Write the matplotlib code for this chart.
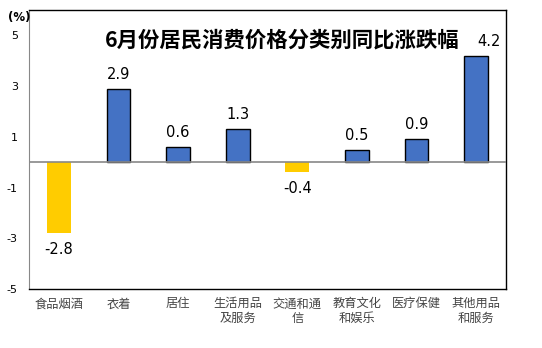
import matplotlib.pyplot as plt
import numpy as np

plt.rcParams['font.family'] = ['Noto Sans CJK SC', 'DejaVu Sans']

categories = ['食品烟酒', '衣着', '居住', '生活用品\n及服务', '交通和通\n信', '教育文化\n和娱乐', '医疗保健', '其他用品\n和服务']
values = [-2.8, 2.9, 0.6, 1.3, -0.4, 0.5, 0.9, 4.2]
yticks = [-5, -3, -1, 1, 3, 5]

fig = plt.figure(figsize=(5.42, 3.48), dpi=100)
ax = fig.add_axes([29/542, 1 - 289/348, 477/542, 279/348])

x = np.arange(len(values))
colors = ['#FFCC00' if v < 0 else '#4472C4' for v in values]
edges = ['none' if v < 0 else 'black' for v in values]
ax.bar(x, values, width=0.4, color=colors, edgecolor=edges, linewidth=1, zorder=2)

ax.set_xlim(-0.5, len(values) - 0.5)
ax.set_ylim(-5, 6)
ax.axhline(0, color='#888888', linewidth=1.2, zorder=3)

for i, v in enumerate(values):
    dx = 0.22 if i == len(values) - 1 else 0
    if v >= 0:
        ax.annotate(f'{v}', (i + dx, v), xytext=(0, 5), textcoords='offset points',
                    ha='center', va='bottom', fontsize=10.5, family='DejaVu Sans')
    else:
        ax.annotate(f'{v}', (i, v), xytext=(0, -6), textcoords='offset points',
                    ha='center', va='top', fontsize=10.5, family='DejaVu Sans')

ax.set_yticks(yticks)
ax.set_yticklabels([str(t) for t in yticks], fontsize=8, family='DejaVu Sans')
ax.set_xticks(x)
ax.set_xticklabels(categories, fontsize=8.8, color='#444444', linespacing=1.15)
ax.tick_params(axis='both', length=0)
ax.tick_params(axis='y', pad=8)
ax.tick_params(axis='x', pad=6)

ax.spines['left'].set_color('#888888')
for s in ['top', 'right', 'bottom']:
    ax.spines[s].set_color('black')
    ax.spines[s].set_linewidth(1)

fig.text(105/542, 1 - 40/348, '6月份居民消费价格分类别同比涨跌幅', fontsize=15.4,
         fontweight='bold', ha='left', va='center')
fig.text(8/542, 1 - 17/348, '(%)', fontsize=8.5, fontweight='bold', ha='left', va='center',
         family='DejaVu Sans')

fig.savefig('out.png', dpi=100)
